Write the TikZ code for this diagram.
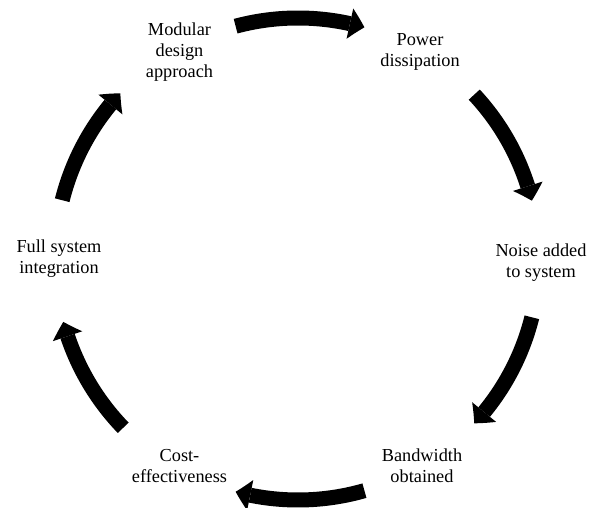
\documentclass[tikz,border=0pt]{standalone}
\usepackage{fontspec}
\setmainfont{Liberation Serif}
\usetikzlibrary{arrows.meta,bending}
\begin{document}
\begin{tikzpicture}[x=1pt,y=1pt,
  lbl/.style={align=center,font=\fontsize{18.3}{21}\selectfont,inner sep=0pt},
  cyc/.style={line width=15pt,-{Triangle[width=31pt,length=15pt,line width=0pt,bend]}}]
\useasboundingbox (0,0) rectangle (589,508);
\coordinate (c) at (298,249);
\node[lbl] (mod) at (179.5,456) {Modular\\design\\approach};
\node[lbl] (pow) at (420,456) {Power\\dissipation};
\node[lbl] (noi) at (541,245) {Noise added\\to system};
\node[lbl] (ban) at (422,42) {Bandwidth\\obtained};
\node[lbl] (cos) at (179.5,42) {Cost-\\effectiveness};
\node[lbl] (ful) at (59,249) {Full system\\integration};
\draw[cyc] ([shift={(105:241)}]c) arc[start angle=105,end angle=74,radius=241];
\draw[cyc] ([shift={(43:241)}]c) arc[start angle=43,end angle=14,radius=241];
\draw[cyc] ([shift={(-14:241)}]c) arc[start angle=-14,end angle=-43,radius=241];
\draw[cyc] ([shift={(-74:241)}]c) arc[start angle=-74,end angle=-105,radius=241];
\draw[cyc] ([shift={(-136:243)}]c) arc[start angle=-136,end angle=-165,radius=243];
\draw[cyc] ([shift={(166:243)}]c) arc[start angle=166,end angle=137,radius=243];
\end{tikzpicture}
\end{document}
